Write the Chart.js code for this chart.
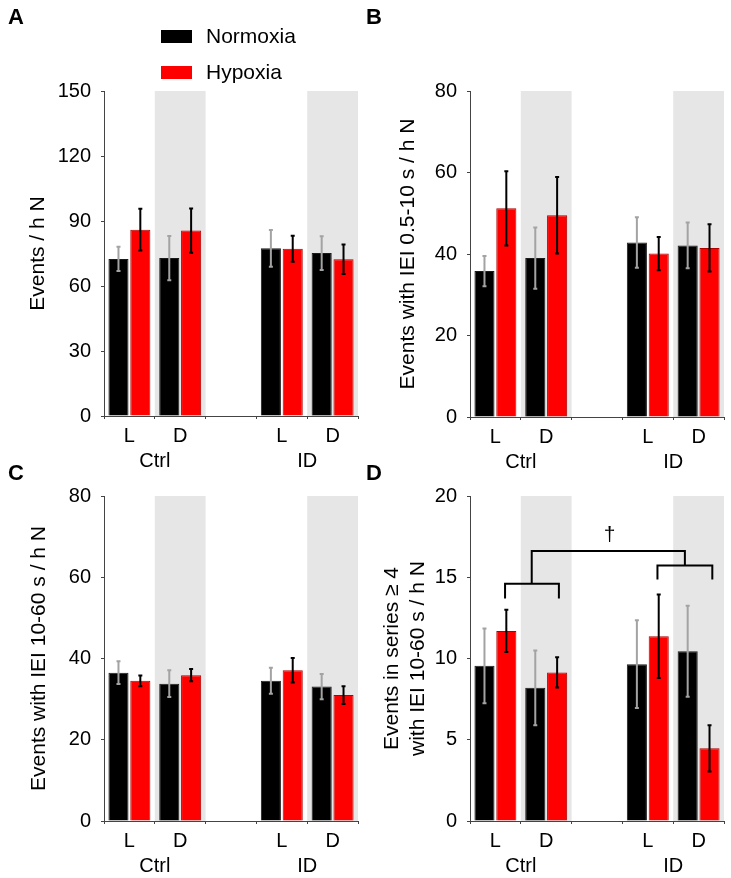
<!DOCTYPE html>
<html>
<head>
<meta charset="utf-8">
<script src="https://cdn.jsdelivr.net/npm/chart.js@4.4.1/dist/chart.umd.min.js"></script>
<style>
  html, body { margin: 0; padding: 0; background: #fff; }
  #wrap { position: relative; width: 731px; height: 878px; overflow: hidden; }
  .panel { position: absolute; }
</style>
</head>
<body>
<div id="wrap">
  <div class="panel" style="left:0;top:0;width:365px;height:470px"><canvas id="chartA"></canvas></div>
  <div class="panel" style="left:365px;top:0;width:366px;height:470px"><canvas id="chartB"></canvas></div>
  <div class="panel" style="left:0;top:440px;width:365px;height:438px"><canvas id="chartC"></canvas></div>
  <div class="panel" style="left:365px;top:440px;width:366px;height:438px"><canvas id="chartD"></canvas></div>
</div>
<script>
// categories: L/D per group, empty slot as the gap between Ctrl and ID
const CATEGORIES = ['L', 'D', '', 'L', 'D'];
const GROUPS     = ['Ctrl', 'ID'];
const GROUP_POS  = [0.5, 3.5];
const SHADED     = [1, 4];
const SERIES     = ['Normoxia', 'Hypoxia'];

// A: Events / h N
const A_NORM     = [72.5, 72.9, null, 77.4, 75.2];
const A_NORM_ERR = [5.6, 10.2, null, 8.5, 7.8];
const A_HYP      = [86.0, 85.6, null, 77.2, 72.3];
const A_HYP_ERR  = [9.6, 10.2, null, 6.0, 6.8];
const A_TICKS    = [0, 30, 60, 90, 120, 150];

// B: Events with IEI 0.5-10 s / h N
const B_NORM     = [35.8, 39.0, null, 42.8, 42.1];
const B_NORM_ERR = [3.7, 7.5, null, 6.2, 5.6];
const B_HYP      = [51.2, 49.5, null, 40.1, 41.5];
const B_HYP_ERR  = [9.1, 9.4, null, 4.1, 5.8];
const B_TICKS    = [0, 20, 40, 60, 80];

// C: Events with IEI 10-60 s / h N
const C_NORM     = [36.5, 33.8, null, 34.5, 33.1];
const C_NORM_ERR = [2.8, 3.3, null, 3.2, 3.1];
const C_HYP      = [34.5, 35.9, null, 37.1, 31.0];
const C_HYP_ERR  = [1.3, 1.5, null, 3.0, 2.2];
const C_TICKS    = [0, 20, 40, 60, 80];

// D: Events in series >= 4 with IEI 10-60 s / h N
const D_NORM     = [9.55, 8.2, null, 9.65, 10.45];
const D_NORM_ERR = [2.3, 2.3, null, 2.7, 2.8];
const D_HYP      = [11.7, 9.14, null, 11.37, 4.47];
const D_HYP_ERR  = [1.3, 0.93, null, 2.57, 1.43];
const D_TICKS    = [0, 5, 10, 15, 20];

// significance brackets in panel D (category index, value)
const D_BRACKETS = [
  [[0.19, 13.7], [0.19, 14.6], [1.25, 14.6], [1.25, 13.7]],
  [[3.19, 14.86], [3.19, 15.72], [4.27, 15.72], [4.27, 14.86]],
  [[0.715, 14.6], [0.715, 16.61], [3.73, 16.61], [3.73, 15.72]],
];
const D_SIG = { x: 2.25, y: 17.6, text: '†' };

const FONT     = 'Liberation Sans, Arial, sans-serif';
const AXIS     = '#444444';
const SHADE    = '#e6e6e6';
const NORM_COL = '#000000';
const HYP_COL  = '#ff0000';

function makePanel(canvasId, p) {
  const canvas = document.getElementById(canvasId);

  const shade = {
    id: 'shade',
    beforeDatasetsDraw(chart) {
      const { ctx, chartArea: { top, bottom } } = chart;
      const x = chart.scales.x;
      ctx.save();
      ctx.fillStyle = SHADE;
      SHADED.forEach(i => {
        const x0 = x.getPixelForValue(i - 0.5);
        const x1 = x.getPixelForValue(i + 0.5);
        ctx.fillRect(x0, top, x1 - x0, bottom - top);
      });
      ctx.restore();
    },
  };

  const errorBars = {
    id: 'errorBars',
    afterDatasetsDraw(chart) {
      const { ctx } = chart;
      const y = chart.scales.y;
      ctx.save();
      ctx.lineWidth = 2;
      chart.data.datasets.forEach((ds, di) => {
        const meta = chart.getDatasetMeta(di);
        ctx.strokeStyle = ds.errColor;
        ds.data.forEach((v, i) => {
          if (v == null) return;
          const e = ds.err[i];
          const cx = meta.data[i].x;
          const y0 = y.getPixelForValue(v + e);
          const y1 = y.getPixelForValue(v - e);
          ctx.beginPath();
          ctx.moveTo(cx, y0); ctx.lineTo(cx, y1);
          ctx.moveTo(cx - 2, y0); ctx.lineTo(cx + 2, y0);
          ctx.moveTo(cx - 2, y1); ctx.lineTo(cx + 2, y1);
          ctx.stroke();
        });
      });
      ctx.restore();
    },
  };

  const extras = {
    id: 'extras',
    afterDraw(chart) {
      const { ctx, chartArea } = chart;
      const x = chart.scales.x;
      const y = chart.scales.y;
      ctx.save();
      ctx.fillStyle = '#000';
      ctx.textBaseline = 'middle';

      // group labels
      ctx.textAlign = 'center';
      ctx.font = `20px ${FONT}`;
      GROUPS.forEach((g, i) => {
        ctx.fillText(g, x.getPixelForValue(GROUP_POS[i]), chartArea.bottom + 45);
      });

      // panel letter
      ctx.textAlign = 'left';
      ctx.font = `bold 22px ${FONT}`;
      ctx.fillText(p.letter, p.letterPos[0], p.letterPos[1]);

      // legend
      if (p.legend) {
        ctx.font = `21px ${FONT}`;
        chart.data.datasets.forEach((ds, i) => {
          const ty = 37 + i * 36;
          ctx.fillStyle = ds.backgroundColor;
          ctx.fillRect(161, ty - 7, 31, 13);
          ctx.fillStyle = '#000';
          ctx.fillText(ds.label, 206, ty);
        });
      }

      // brackets
      if (p.brackets) {
        ctx.strokeStyle = '#000';
        ctx.lineWidth = 2;
        p.brackets.forEach(line => {
          ctx.beginPath();
          line.forEach(([bx, by], k) => {
            const px = x.getPixelForValue(bx);
            const py = y.getPixelForValue(by);
            if (k === 0) ctx.moveTo(px, py); else ctx.lineTo(px, py);
          });
          ctx.stroke();
        });
        ctx.textAlign = 'center';
        ctx.font = `21px ${FONT}`;
        ctx.fillText(p.sig.text, x.getPixelForValue(p.sig.x), y.getPixelForValue(p.sig.y));
      }
      ctx.restore();
    },
  };

  return new Chart(canvas, {
    type: 'bar',
    data: {
      labels: CATEGORIES,
      datasets: [
        {
          label: SERIES[0],
          data: p.norm,
          err: p.normErr,
          errColor: '#a3a3a3',
          backgroundColor: NORM_COL,
          borderColor: '#1a1a1a',
          borderWidth: 1,
          categoryPercentage: 0.86,
          barPercentage: 0.92,
        },
        {
          label: SERIES[1],
          data: p.hyp,
          err: p.hypErr,
          errColor: '#000000',
          backgroundColor: HYP_COL,
          borderColor: '#b00000',
          borderWidth: 1,
          categoryPercentage: 0.86,
          barPercentage: 0.92,
        },
      ],
    },
    options: {
      responsive: true,
      maintainAspectRatio: false,
      animation: false,
      layout: { padding: p.padding },
      plugins: {
        legend:  { display: false },
        tooltip: { enabled: false },
      },
      scales: {
        x: {
          offset: true,
          grid: { offset: true, drawOnChartArea: false, tickLength: 3, color: AXIS },
          border: { color: AXIS, width: 1 },
          ticks: { color: '#000', font: { family: FONT, size: 20 }, padding: 5, maxRotation: 0, autoSkip: false },
          afterFit: s => { s.height = p.xHeight; },
        },
        y: {
          min: 0,
          max: p.ticks[p.ticks.length - 1],
          afterBuildTicks: s => { s.ticks = p.ticks.map(v => ({ value: v })); },
          grid: { drawOnChartArea: false, tickLength: 3, color: AXIS },
          border: { color: AXIS, width: 1 },
          ticks: { color: '#000', font: { family: FONT, size: 20 }, padding: 10 },
          title: {
            display: true,
            text: p.title,
            color: '#000',
            font: { family: FONT, size: 21, lineHeight: p.titleLH || 1.2 },
            padding: { top: p.titlePad, bottom: 0 },
          },
          afterFit: s => { s.width = p.yWidth; },
        },
      },
    },
    plugins: [shade, errorBars, extras],
  });
}

makePanel('chartA', {
  letter: 'A', letterPos: [8, 18],
  norm: A_NORM, normErr: A_NORM_ERR, hyp: A_HYP, hypErr: A_HYP_ERR, ticks: A_TICKS,
  title: 'Events / h N', titlePad: 25.4,
  padding: { top: 91, right: 7, left: 0, bottom: 0 }, yWidth: 104, xHeight: 54,
  legend: true,
});

makePanel('chartB', {
  letter: 'B', letterPos: [1, 18],
  norm: B_NORM, normErr: B_NORM_ERR, hyp: B_HYP, hypErr: B_HYP_ERR, ticks: B_TICKS,
  title: 'Events with IEI 0.5-10 s / h N', titlePad: 30.4,
  padding: { top: 91, right: 7, left: 0, bottom: 0 }, yWidth: 105, xHeight: 53,
});

makePanel('chartC', {
  letter: 'C', letterPos: [8, 34],
  norm: C_NORM, normErr: C_NORM_ERR, hyp: C_HYP, hypErr: C_HYP_ERR, ticks: C_TICKS,
  title: 'Events with IEI 10-60 s / h N', titlePad: 26.4,
  padding: { top: 56, right: 7, left: 0, bottom: 0 }, yWidth: 104, xHeight: 57,
});

makePanel('chartD', {
  letter: 'D', letterPos: [1, 34],
  norm: D_NORM, normErr: D_NORM_ERR, hyp: D_HYP, hypErr: D_HYP_ERR, ticks: D_TICKS,
  title: ['Events in series \u2265 4', 'with IEI 10-60 s / h N'], titlePad: 14, titleLH: 1.238,
  padding: { top: 56, right: 7, left: 0, bottom: 0 }, yWidth: 105, xHeight: 57,
  brackets: D_BRACKETS, sig: D_SIG,
});
</script>
</body>
</html>
